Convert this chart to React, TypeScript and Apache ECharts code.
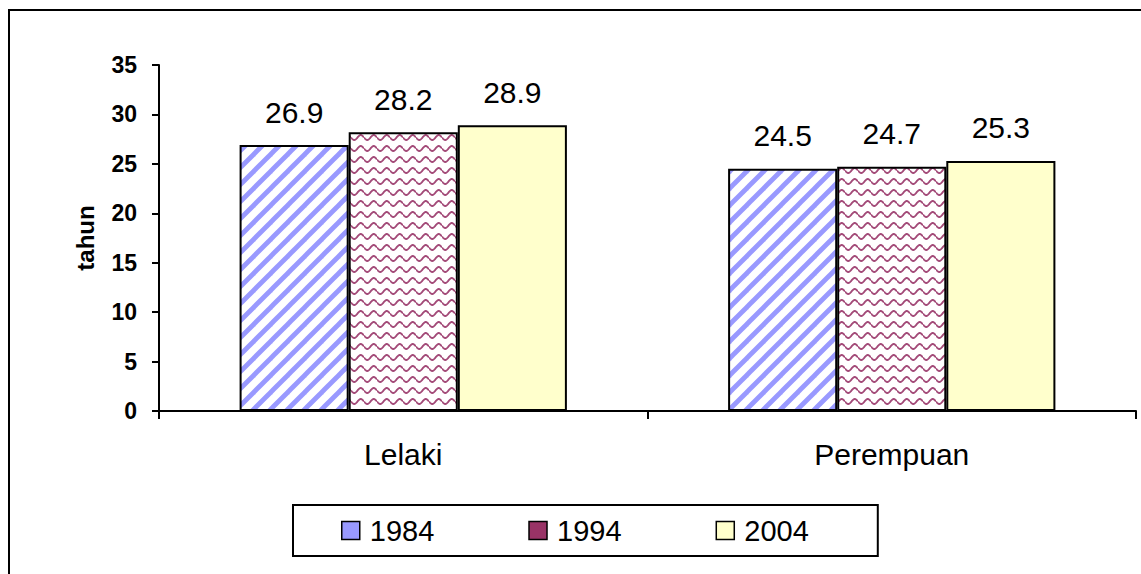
import React, { useEffect, useRef } from "react";
import * as echarts from "echarts";

const categories = ["Lelaki", "Perempuan"];
const seriesNames = ["1984", "1994", "2004"];
const values1984 = [26.9, 24.5];
const values1994 = [28.2, 24.7];
const values2004 = [28.9, 25.3];
const yAxisName = "tahun";

const FONT = "'Liberation Sans', Arial, sans-serif";

function stripeTile(): string {
  const s = 17;
  const c = document.createElement("canvas");
  c.width = s;
  c.height = s;
  const ctx = c.getContext("2d")!;
  ctx.fillStyle = "#ffffff";
  ctx.fillRect(0, 0, s, s);
  ctx.strokeStyle = "#9999FF";
  ctx.lineWidth = 4.8;
  const seg = (x1: number, y1: number, x2: number, y2: number) => {
    ctx.beginPath();
    ctx.moveTo(x1, y1);
    ctx.lineTo(x2, y2);
    ctx.stroke();
  };
  seg(-s, s, s, -s);
  seg(-s, 2 * s, 2 * s, -s);
  seg(0, 2 * s, 2 * s, 0);
  return c.toDataURL();
}

function waveTile(): string {
  const w = 13;
  const h = 11;
  const c = document.createElement("canvas");
  c.width = w;
  c.height = h;
  const ctx = c.getContext("2d")!;
  ctx.fillStyle = "#ffffff";
  ctx.fillRect(0, 0, w, h);
  ctx.strokeStyle = "#A34A78";
  ctx.lineWidth = 1.9;
  ctx.beginPath();
  for (let i = 0; i <= 52; i++) {
    const x = (i / 52) * w;
    const y = 5.5 + 2.5 * Math.sin((x / w) * Math.PI * 2);
    if (i === 0) ctx.moveTo(x, y);
    else ctx.lineTo(x, y);
  }
  ctx.stroke();
  return c.toDataURL();
}

export default function App() {
  const ref = useRef<HTMLDivElement>(null);
  useEffect(() => {
    if (!ref.current) return;
    const chart = echarts.init(ref.current, null, { renderer: "svg" });
    const stripe = { image: stripeTile(), repeat: "repeat", imageWidth: 17, imageHeight: 17 } as any;
    const wave = { image: waveTile(), repeat: "repeat", imageWidth: 13, imageHeight: 11 } as any;
    const fills = [stripe, wave, "#FFFFCC"];
    const legendColors = ["#9999FF", "#993366", "#FFFFCC"];
    const data = [values1984, values1994, values2004];

    chart.setOption({
      animation: false,
      textStyle: { fontFamily: FONT },
      graphic: [
        {
          type: "rect",
          shape: { x: 9, y: 10, width: 1300, height: 800 },
          style: { fill: "none", stroke: "#000", lineWidth: 2 },
          silent: true,
        },
      ],
      legend: {
        left: 293,
        top: 505,
        orient: "horizontal",
        padding: [11, 69, 11, 48],
        borderColor: "#000",
        borderWidth: 2,
        itemWidth: 18,
        itemHeight: 18,
        itemGap: 94,
        textStyle: { fontSize: 29, color: "#000", fontFamily: FONT, padding: [0, 0, 0, 5] },
        data: seriesNames.map((n, i) => ({
          name: n,
          icon: "rect",
          itemStyle: { color: legendColors[i], borderColor: "#000", borderWidth: 1.5, decal: "none" },
        })),
      },
      grid: { left: 159, right: 5, top: 65, bottom: 163, containLabel: false },
      xAxis: {
        type: "category",
        data: categories,
        axisLine: { lineStyle: { color: "#000", width: 2 } },
        axisTick: { show: true, length: 8, lineStyle: { color: "#000", width: 2 } },
        axisLabel: { fontSize: 30, color: "#000", margin: 28, fontFamily: FONT },
      },
      yAxis: {
        type: "value",
        min: 0,
        max: 35,
        interval: 5,
        name: yAxisName,
        nameLocation: "middle",
        nameRotate: 90,
        nameGap: 62,
        nameTextStyle: { fontSize: 24, fontWeight: "bold", color: "#000", fontFamily: FONT },
        axisLine: { show: true, lineStyle: { color: "#000", width: 2 } },
        axisTick: { show: true, length: 7, lineStyle: { color: "#000", width: 2 } },
        axisLabel: { fontSize: 23, fontWeight: "bold", color: "#000", margin: 22, fontFamily: FONT },
        splitLine: { show: false },
      },
      series: seriesNames.map((n, i) => ({
        name: n,
        type: "bar",
        data: data[i],
        barGap: "0%",
        barCategoryGap: "33%",
        itemStyle: { color: fills[i], borderColor: "#000", borderWidth: 2 },
        label: {
          show: true,
          position: "top",
          distance: 18,
          fontSize: 30,
          color: "#000",
          fontFamily: FONT,
          formatter: (p: any) => p.value.toFixed(1),
        },
      })),
    });
    return () => chart.dispose();
  }, []);
  return (
    <div
      ref={ref}
      style={{ position: "absolute", left: 0, top: 0, width: 1141, height: 574, background: "#fff" }}
    />
  );
}
